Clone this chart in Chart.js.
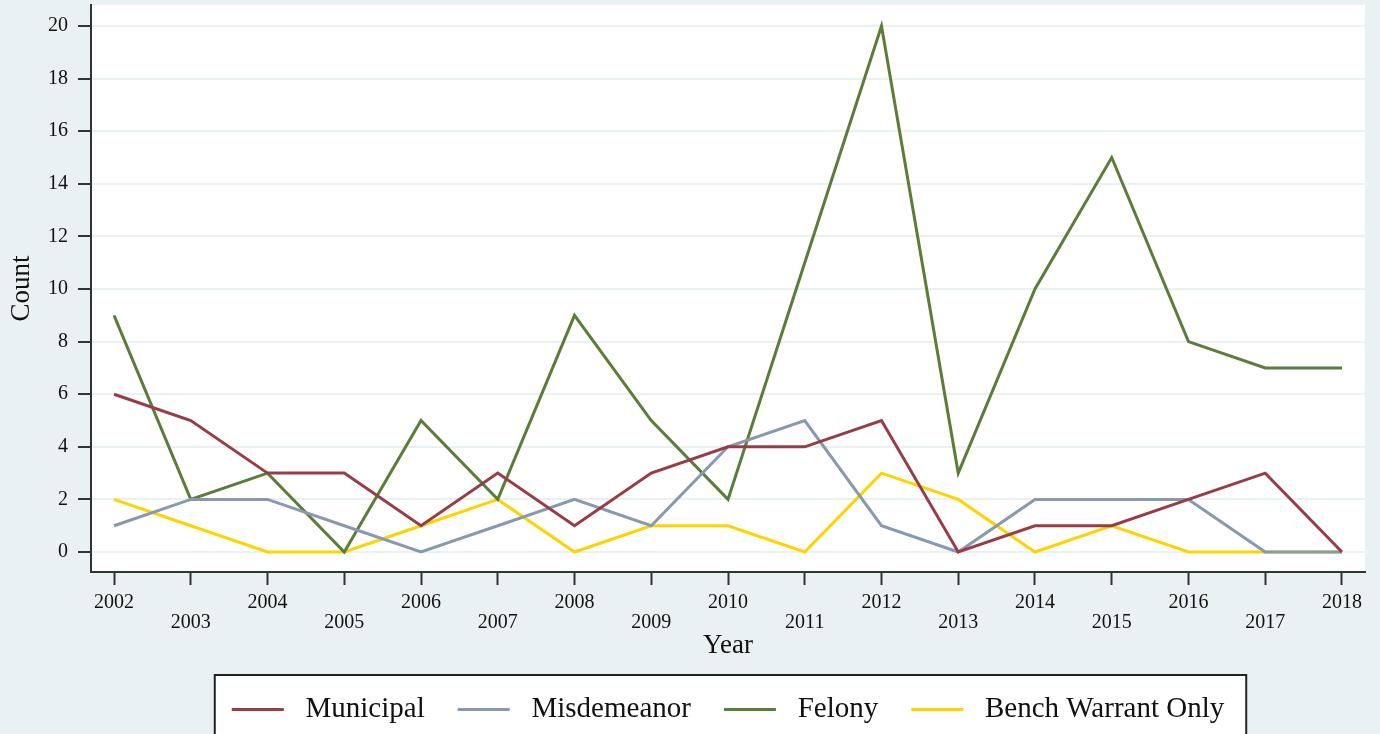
<!DOCTYPE html>
<html>
<head>
<meta charset="utf-8">
<script src="https://cdn.jsdelivr.net/npm/chart.js@4/dist/chart.umd.min.js"></script>
<style>
  html, body { margin: 0; padding: 0; background: #EAF1F3; overflow: hidden; }
  #wrap { width: 1380px; height: 734px; }
</style>
</head>
<body>
<div id="wrap"><canvas id="c" width="1380" height="734"></canvas></div>
<script>
const years = [2002, 2003, 2004, 2005, 2006, 2007, 2008, 2009, 2010, 2011, 2012, 2013, 2014, 2015, 2016, 2017, 2018];
const municipal   = [6, 5, 3, 3, 1, 3, 1, 3, 4, 4, 5, 0, 1, 1, 2, 3, 0];
const misdemeanor = [1, 2, 2, 1, 0, 1, 2, 1, 4, 5, 1, 0, 2, 2, 2, 0, 0];
const felony      = [9, 2, 3, 0, 5, 2, 9, 5, 2, 11, 20, 3, 10, 15, 8, 7, 7];
const bench       = [2, 1, 0, 0, 1, 2, 0, 1, 1, 0, 3, 2, 0, 1, 0, 0, 0];
const yTicks = [0, 2, 4, 6, 8, 10, 12, 14, 16, 18, 20];
const seriesNames = ['Municipal', 'Misdemeanor', 'Felony', 'Bench Warrant Only'];

const colors = ['#983C47', '#8699AF', '#5A7D37', '#FFD300'];
const serif = "'Liberation Serif', 'Times New Roman', serif";
const dark = '#333333';

function pts(vals) { return vals.map((v, i) => ({ x: years[i], y: v })); }

const datasets = [municipal, misdemeanor, felony, bench].map((vals, i) => ({
  label: ' ' + seriesNames[i],
  data: pts(vals),
  borderColor: colors[i],
  backgroundColor: colors[i],
  borderWidth: 3,
  pointRadius: 0,
  tension: 0,
  fill: false
}));

function legendFrame(chart) {
  const lg = chart.legend;
  if (!lg || !lg.legendHitBoxes || !lg.legendHitBoxes.length) return null;
  const hb = lg.legendHitBoxes;
  const left = hb[0].left - 17;
  const right = hb[hb.length - 1].left + hb[hb.length - 1].width + 22;
  const top = lg.top + 13;
  return { left, right, top };
}

const bgPlugin = {
  id: 'bg',
  beforeDraw(chart) {
    const ctx = chart.ctx, a = chart.chartArea;
    ctx.save();
    ctx.fillStyle = '#EAF1F3';
    ctx.fillRect(0, 0, chart.width, chart.height);
    ctx.fillStyle = '#FFFFFF';
    ctx.fillRect(a.left, a.top, a.right - a.left, a.bottom - a.top);
    const f = legendFrame(chart);
    if (f) {
      ctx.fillRect(f.left, f.top, f.right - f.left, chart.height - f.top + 20);
      ctx.strokeStyle = '#222';
      ctx.lineWidth = 2;
      ctx.strokeRect(f.left, f.top, f.right - f.left, chart.height - f.top + 20);
    }
    ctx.restore();
  }
};

new Chart(document.getElementById('c'), {
  type: 'line',
  data: { datasets },
  plugins: [bgPlugin],
  options: {
    responsive: false,
    animation: false,
    layout: { padding: { top: 5, right: 15, left: 0, bottom: 0 } },
    plugins: {
      tooltip: { enabled: false },
      legend: {
        position: 'bottom',
        fullSize: false,
        labels: {
          usePointStyle: true,
          pointStyle: 'line',
          pointStyleWidth: 52,
          padding: 33,
          color: '#111',
          font: { family: serif, size: 29 }
        }
      }
    },
    scales: {
      x: {
        type: 'linear',
        min: 2001.7,
        max: 2018.3,
        afterBuildTicks(scale) { scale.ticks = years.map(v => ({ value: v })); },
        afterFit(scale) { scale.height = 90; scale.paddingLeft = 0; scale.paddingRight = 0; },
        ticks: {
          autoSkip: false,
          maxRotation: 0,
          padding: 8,
          color: '#111',
          font: { family: serif, size: 20, lineHeight: 1.0 },
          callback(value) {
            const i = years.indexOf(value);
            if (i < 0) return '';
            return i % 2 === 0 ? [String(value)] : ['', String(value)];
          }
        },
        grid: {
          drawOnChartArea: false,
          drawTicks: true,
          tickLength: 13,
          tickColor: dark,
          tickWidth: 2
        },
        border: { display: true, color: dark, width: 2 },
        title: {
          display: true,
          text: 'Year',
          color: '#111',
          font: { family: serif, size: 27 },
          padding: { top: 0, bottom: 0 }
        }
      },
      y: {
        min: -0.76,
        max: 20.8,
        afterBuildTicks(scale) { scale.ticks = yTicks.map(v => ({ value: v })); },
        afterFit(scale) { scale.width = 91; scale.paddingTop = 0; scale.paddingBottom = 0; },
        ticks: {
          padding: 10,
          color: '#111',
          font: { family: serif, size: 20 },
          callback(value) { return String(value); }
        },
        grid: {
          color: '#EAF1F3',
          lineWidth: 2,
          drawTicks: true,
          tickLength: 13,
          tickColor: dark,
          tickWidth: 2
        },
        border: { display: true, color: dark, width: 2 },
        title: {
          display: true,
          text: 'Count',
          color: '#111',
          font: { family: serif, size: 27 },
          padding: { top: 6, bottom: 0 }
        }
      }
    }
  }
});
</script>
</body>
</html>
